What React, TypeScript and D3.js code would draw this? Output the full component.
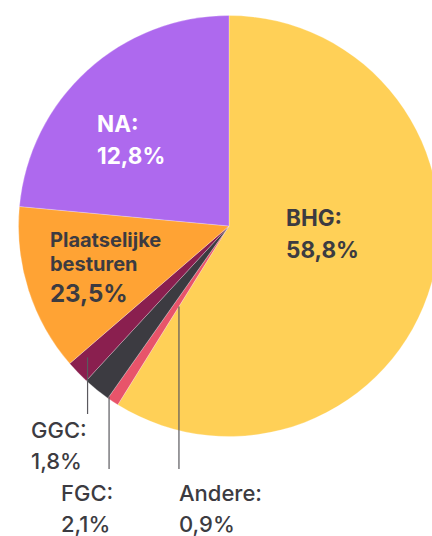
import React from "react";
import * as d3 from "d3";

const categories = ["BHG", "Andere", "FGC", "GGC", "Plaatselijke besturen", "NA"];
const values = [58.8, 0.9, 2.1, 1.8, 12.8, 23.5];
const labelLines = [["BHG:", "58,8%"], ["Andere:", "0,9%"], ["FGC:", "2,1%"], ["GGC:", "1,8%"], ["Plaatselijke", "besturen", "23,5%"], ["NA:", "12,8%"]];
const colors = ["#FFD057", "#E8546A", "#3C3B41", "#8A1F4F", "#FFA334", "#AE69EE"];

const W = 432, H = 536;
const cx = 229, cy = 226, R = 210.5;
const textColor = "#3C3B41";
const FONT = "Inter, Roboto, 'Noto Sans', sans-serif";

// label placement (annotation layout)
const inside: Record<string, { x: number; y: number; size: number; lh: number; fill: string; small?: number }> = {
  BHG: { x: 286, y: 226, size: 22.5, lh: 32, fill: textColor },
  NA: { x: 97, y: 132, size: 22.5, lh: 32, fill: "#fff" },
  "Plaatselijke besturen": { x: 50, y: 247, size: 20, lh: 24, fill: textColor, small: 2 },
};
const outside: Record<string, { x: number; y: number; frac: number; k: number; yEnd: number }> = {
  GGC: { x: 31, y: 438, frac: 0.68, k: 0.917, yEnd: 414 },
  FGC: { x: 61, y: 501, frac: 0.0, k: 0.99, yEnd: 469 },
  Andere: { x: 179, y: 501, frac: 0.0, k: 0.45, yEnd: 469 },
};

export default function App() {
  const pie = d3.pie<number>().sort(null).value((d) => d);
  const arcs = pie(values);
  const arc = d3.arc<d3.PieArcDatum<number>>().innerRadius(0).outerRadius(R);

  return (
    <svg width={W} height={H} style={{ position: "absolute", left: 0, top: 0, background: "#fff" }} fontFamily={FONT}>
      <g transform={`translate(${cx},${cy})`}>
        {arcs.map((a, i) => (
          <path key={i} d={arc(a) || ""} fill={colors[i]} stroke="#fff" strokeOpacity={0.5} strokeWidth={0.5} />
        ))}
      </g>
      {arcs.map((a, i) => {
        const name = categories[i];
        const o = outside[name];
        if (!o) return null;
        const ang = a.startAngle + o.frac * (a.endAngle - a.startAngle);
        const r = R * o.k;
        const lx = cx + r * Math.sin(ang);
        const ly = cy - r * Math.cos(ang);
        return <line key={"l" + i} x1={lx} x2={lx} y1={ly} y2={o.yEnd} stroke="#5a595e" strokeWidth={1.2} />;
      })}
      {categories.map((name, i) => {
        const ins = inside[name];
        if (ins) {
          const lines = labelLines[i];
          let y = ins.y;
          return (
            <text key={"t" + i} fill={ins.fill} fontWeight={700}>
              {lines.map((t, j) => {
                const isLast = j === lines.length - 1;
                const size = ins.small && !isLast ? ins.size : ins.small ? 24 : ins.size;
                const yy = j === 0 ? y : (y += isLast && ins.small ? 31 : ins.lh);
                return (
                  <tspan key={j} x={ins.x} y={yy} fontSize={size}>
                    {t}
                  </tspan>
                );
              })}
            </text>
          );
        }
        const o = outside[name];
        return (
          <text key={"t" + i} fill={textColor} fontWeight={500} fontSize={22}>
            {labelLines[i].map((t, j) => (
              <tspan key={j} x={o.x} y={o.y + j * 30.5}>
                {t}
              </tspan>
            ))}
          </text>
        );
      })}
    </svg>
  );
}
